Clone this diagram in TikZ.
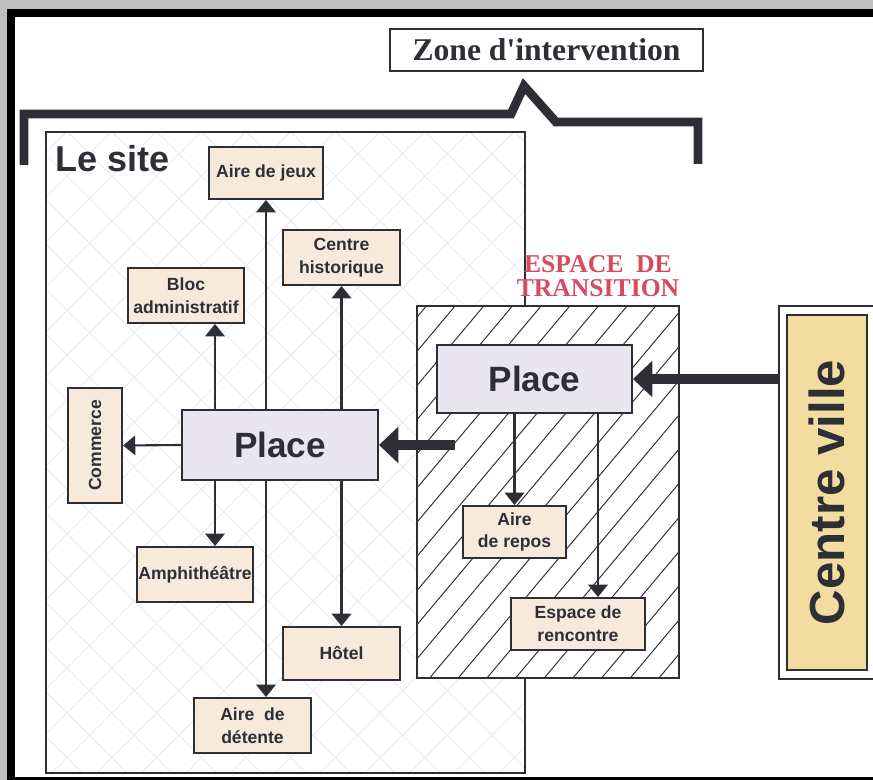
\documentclass[tikz,border=0pt]{standalone}
\usepackage{fontspec}
\setmainfont{Liberation Sans}
\newfontfamily\timesfont{Liberation Serif}
\usetikzlibrary{arrows.meta,patterns.meta}
\definecolor{inkgrey}{HTML}{2E2E36}
\definecolor{peach}{HTML}{F7EADA}
\definecolor{lilac}{HTML}{E9E6EF}
\definecolor{sand}{HTML}{F2DCA0}
\definecolor{rosered}{HTML}{D64B5F}

\begin{document}
\begin{tikzpicture}[x=0.02cm, y=-0.02cm,
    box/.style={draw=inkgrey, line width=1.1pt, fill=peach, align=center,
                inner sep=1pt, text=inkgrey,
                font=\fontsize{10}{13}\selectfont\bfseries},
    plaza/.style={draw=inkgrey, line width=1.1pt, fill=lilac, text=inkgrey,
                  font=\fontsize{20}{24}\selectfont\bfseries},
    zonebox/.style={draw=inkgrey, line width=1.1pt, inner sep=0pt},
    arr/.style={-{Triangle[width=11pt,length=7pt]}, line width=1.2pt, inkgrey},
    bigarr/.style={-{Triangle[width=20pt,length=11pt]}, line width=5.5pt, inkgrey},
    bracket/.style={line width=5pt, inkgrey, miter limit=20}
  ]
  \clip (0,0) rectangle (873,780);
  \fill[white] (0,0) rectangle (873,780);
  % photo strip and black frame
  \fill[gray!50] (0,0) rectangle (873,9);
  \fill[gray!50] (0,0) rectangle (7,780);
  \fill[black] (7,9) rectangle (873,17);
  \fill[black] (7,9) rectangle (15,780);
  \fill[black] (7,777) rectangle (873,780);

  % zones
  \node[zonebox, minimum width=9.58cm, minimum height=12.82cm,
        pattern={Hatch[angle=45,distance=18pt,line width=0.5pt]},
        pattern color=black!8] (site) at (285.5,452.5) {};
  \node[zonebox, line width=0.8pt, minimum width=5.24cm, minimum height=7.44cm,
        preaction={fill=white},
        pattern={Lines[angle=50,distance=12.5pt,line width=0.55pt]},
        pattern color=inkgrey] (trans) at (548,492) {};
  \node[zonebox, line width=0.9pt, fill=white, minimum width=2.22cm,
        minimum height=7.46cm] (cvframe) at (834.5,492.5) {};

  % intervention bracket
  \draw[bracket] (24,165) -- (24,114) -- (511,114) -- (524,86)
                 -- (556,122) -- (698,122) -- (698,164);
  \node[zonebox, fill=white, minimum width=6.26cm, minimum height=0.84cm,
        font=\timesfont\fontsize{18}{20}\selectfont\bfseries, text=inkgrey]
        (zone) at (546.5,50) {Zone d'intervention};

  % labels
  \node[anchor=base west, inner sep=0pt, text=inkgrey,
        font=\fontsize{20.5}{24}\selectfont\bfseries] (sitelab) at (55,172) {Le site};
  \node[align=center, inner sep=0pt, text=rosered,
        font=\timesfont\fontsize{14.6}{13.6}\selectfont\bfseries]
        (esp) at (598,276) {ESPACE\ \ DE\\TRANSITION};

  % le site
  \node[plaza, minimum width=3.92cm, minimum height=1.4cm] (place) at (280,445) {Place};
  \node[box, minimum width=2.28cm, minimum height=1.04cm] (jeux) at (266,173) {Aire de jeux};
  \node[box, minimum width=2.34cm, minimum height=1.1cm] (hist) at (341.5,257.5) {Centre\\historique};
  \node[box, minimum width=2.32cm, minimum height=1.1cm] (bloc) at (186,295.5) {Bloc\\administratif};
  \node[box, minimum width=1.08cm, minimum height=2.3cm] (commerce) at (95,445.5) {\rotatebox{90}{Commerce}};
  \node[box, minimum width=2.32cm, minimum height=1.1cm] (amphi) at (195,574.5) {Amphith\'e\^atre};
  \node[box, minimum width=2.34cm, minimum height=1.06cm] (hotel) at (341.5,653.5) {H\^otel};
  \node[box, minimum width=2.34cm, minimum height=1.1cm] (detente) at (252.5,725.5) {Aire\ \ de\\d\'etente};

  % espace de transition
  \node[plaza, minimum width=3.9cm, minimum height=1.36cm] (place2) at (534.5,379) {Place};
  \node[box, minimum width=2.06cm, minimum height=1.04cm] (repos) at (514.5,532) {Aire\\de repos};
  \node[box, minimum width=2.68cm, minimum height=1.04cm] (rencontre) at (578,624) {Espace de\\rencontre};

  % centre ville
  \node[draw=inkgrey, line width=1.1pt, fill=sand, minimum width=1.6cm,
        minimum height=7.1cm, inner sep=0pt, text=inkgrey,
        font=\fontsize{28}{30}\selectfont\bfseries] (ville) at (827,492.5)
        {\rotatebox{90}{Centre ville}};

  % arrow columns
  \coordinate (colA) at (215,0);
  \coordinate (colB) at (266,0);
  \coordinate (colC) at (598,0);
  \coordinate (tin) at (455,445);

  % place -> surroundings
  \draw[arr] (place.north -| colA) -- (bloc.south -| colA);
  \draw[arr] (place.north -| colB) -- (jeux.south);
  \draw[arr] (place.north -| hist) -- (hist.south);
  \draw[arr] (place.west) -- (commerce.east);
  \draw[arr] (place.south -| colA) -- (amphi.north -| colA);
  \draw[arr] (place.south -| colB) -- (detente.north -| colB);
  \draw[arr] (place.south -| hotel) -- (hotel.north);
  % place 2 -> rest areas
  \draw[arr] (place2.south -| repos) -- (repos.north);
  \draw[arr] (place2.south -| colC) -- (rencontre.north -| colC);
  % main flows
  \draw[bigarr] (cvframe.west |- place2) -- (place2.east);
  \draw[bigarr] (tin) -- (place.east);
\end{tikzpicture}
\end{document}
